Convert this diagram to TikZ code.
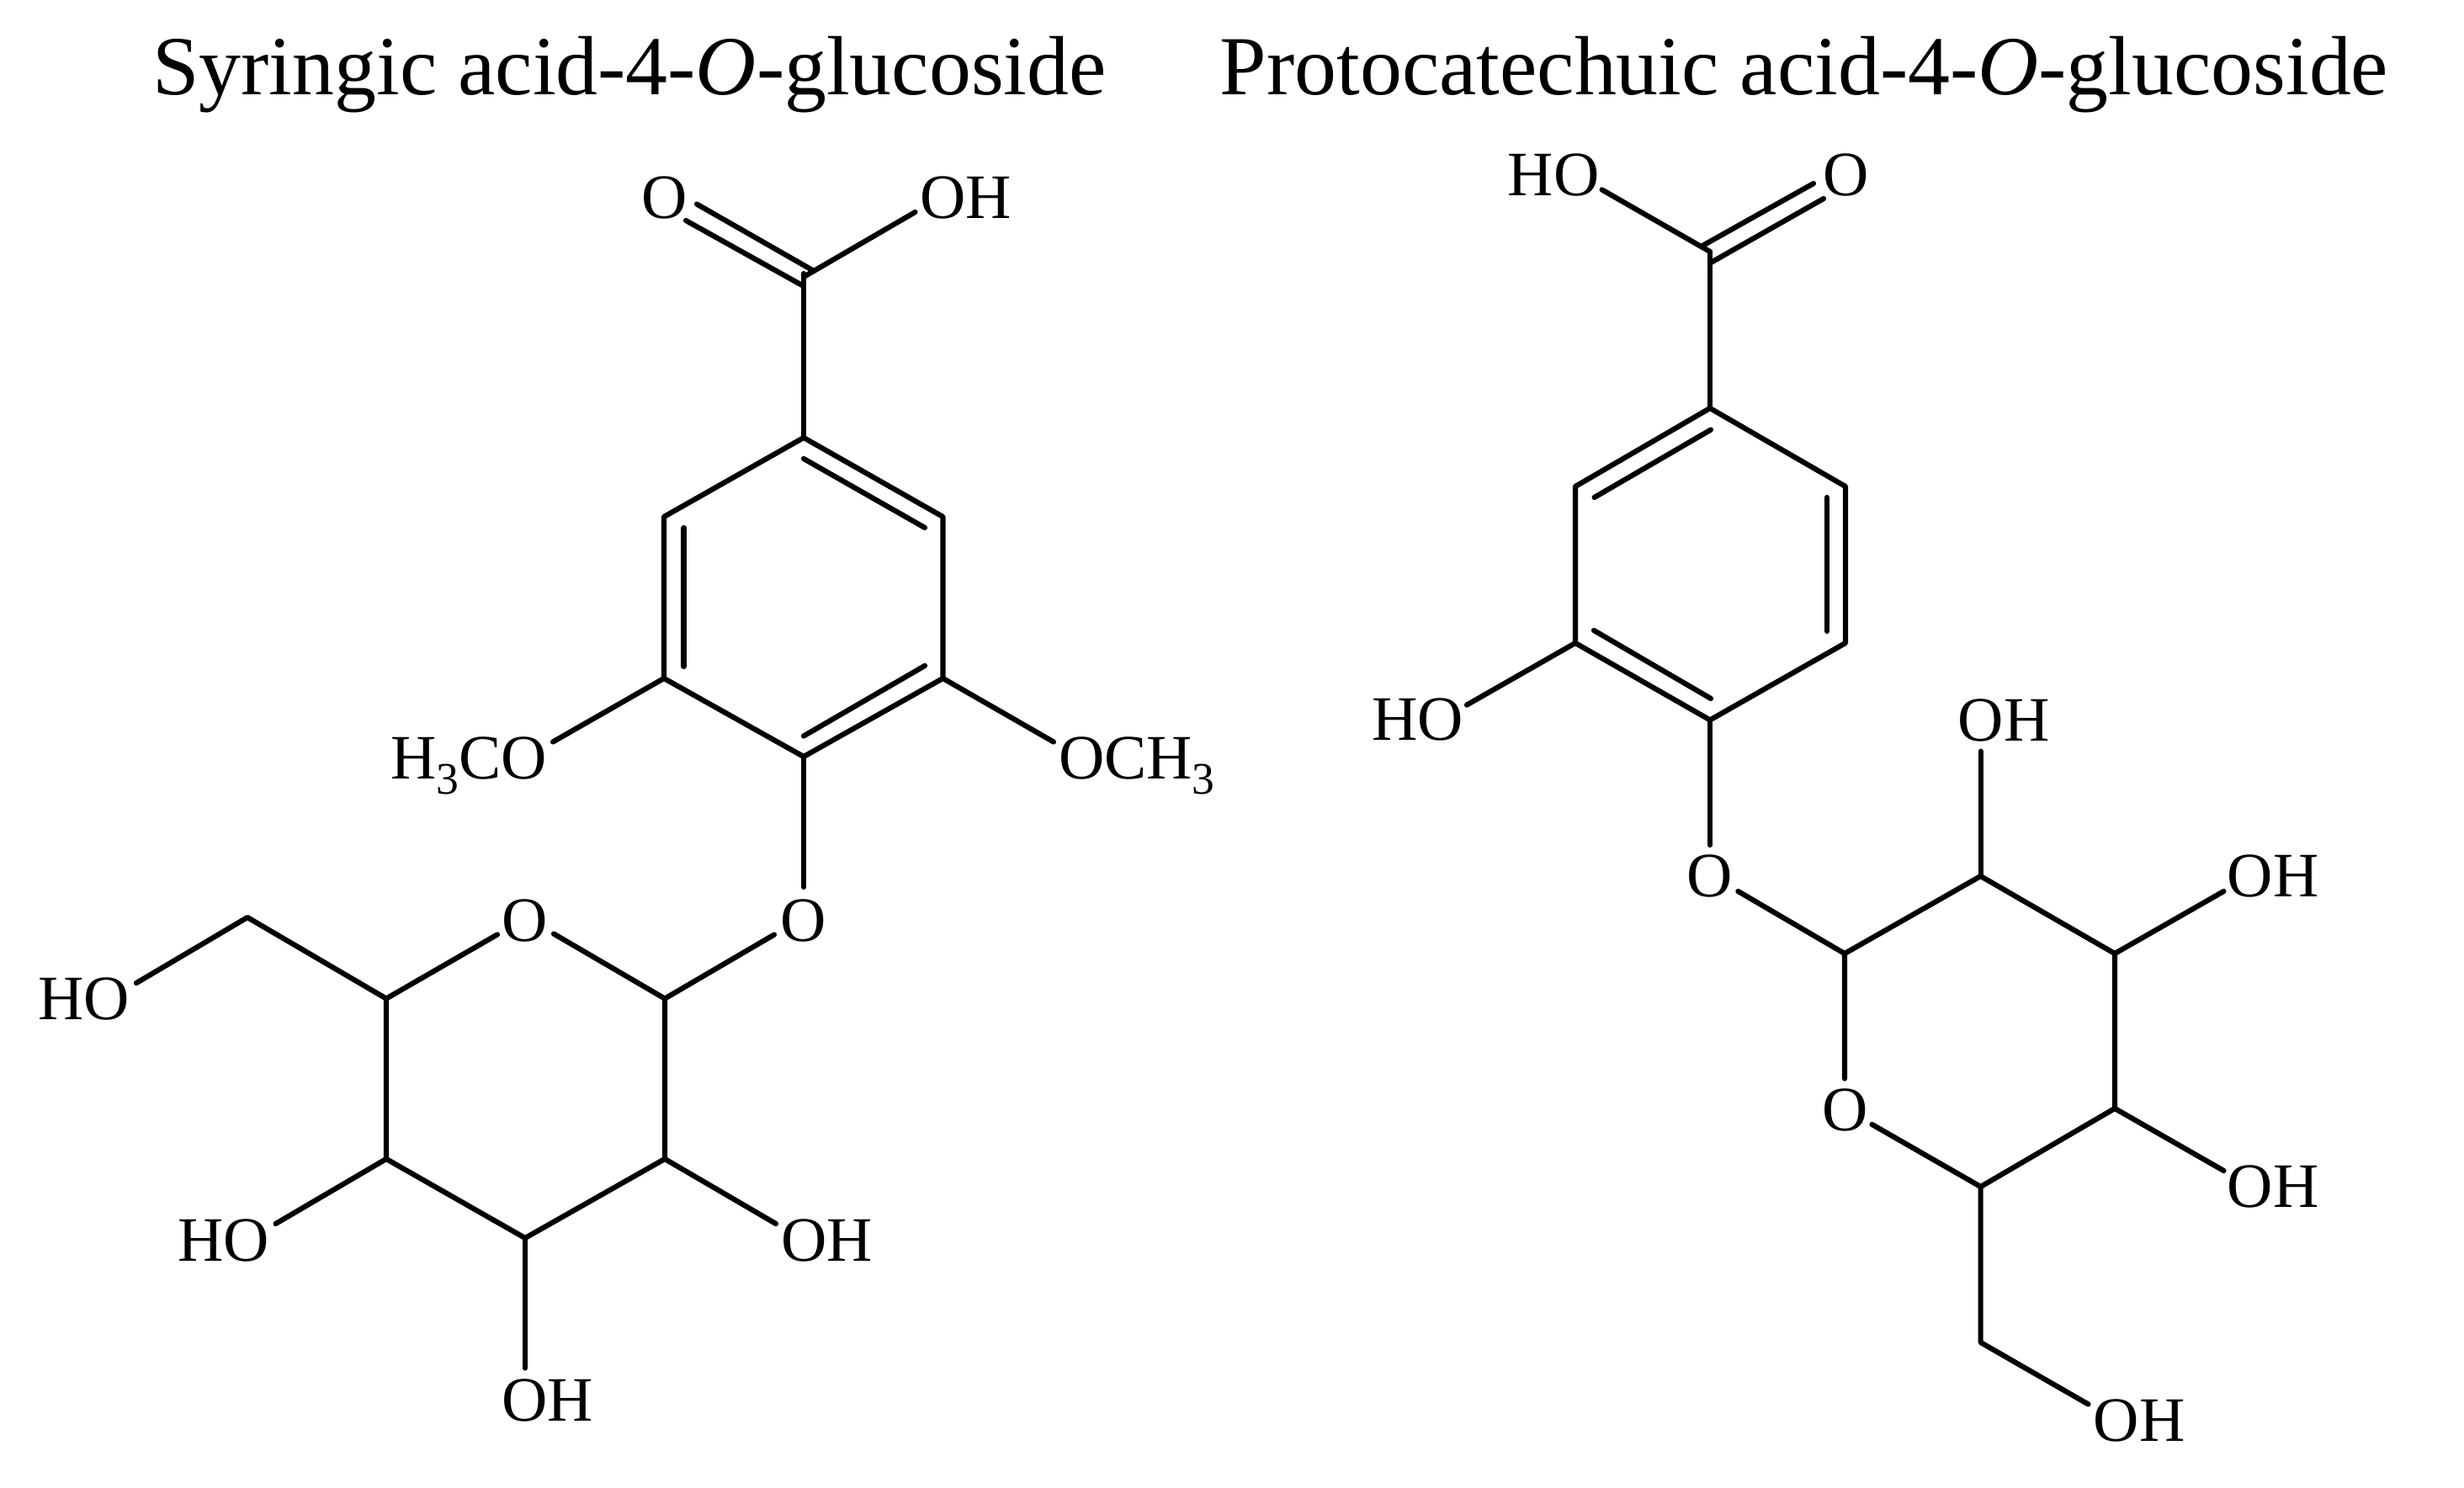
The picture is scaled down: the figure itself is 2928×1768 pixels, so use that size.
\documentclass[tikz,border=0pt]{standalone}
\usepackage{fontspec}
\setmainfont{Liberation Serif}
\newcommand{\subdigit}[1]{\raisebox{-0.24em}{\fontsize{13.4pt}{15pt}\selectfont #1}}
\tikzset{
  bond/.style={draw=black,line width=1.55pt,line cap=round,line join=round},
  atom/.style={inner sep=0pt,outer sep=0pt,anchor=base,font=\fontsize{18.8pt}{22pt}\selectfont,text=black},
  heading/.style={inner sep=0pt,outer sep=0pt,anchor=base,font=\fontsize{24.95pt}{30pt}\selectfont,text=black}
}
\begin{document}
\begin{tikzpicture}[x=0.25pt,y=-0.25pt]
\useasboundingbox (0,0) rectangle (2928,1768);
% titles
\node[heading] (titleA) at (748,112) {Syringic acid-4-\textit{O}-glucoside};
\node[heading] (titleB) at (2144,112) {Protocatechuic acid-4-\textit{O}-glucoside};

% ---------- left molecule ----------
\node[atom] (aO1) at (790,259) {O};
\node[atom] (aOH1) at (1148,259) {OH};
\node[atom] (aHCO) at (557,925) {H\subdigit{3}CO};
\node[atom] (aOCH) at (1351,925) {OCH\subdigit{3}};
\node[atom] (aOl) at (955,1118) {O};
\node[atom] (aOr) at (624,1118) {O};
\node[atom] (aHO6) at (100,1211) {HO};
\node[atom] (aHO4) at (266,1498) {HO};
\node[atom] (aOH2) at (983,1498) {OH};
\node[atom] (aOH3) at (651,1688) {OH};

\coordinate (aC) at (955,325);
\coordinate (r1) at (955,520);
\coordinate (r2) at (1120.5,614);
\coordinate (r3) at (1120.5,806);
\coordinate (r4) at (955,899);
\coordinate (r5) at (789,806);
\coordinate (r6) at (789,614);
\draw[bond] (r1) -- (r2) -- (r3) -- (r4) -- (r5) -- (r6) -- cycle;
\coordinate (i1a) at (955,545); \coordinate (i1b) at (1099,627);
\coordinate (i2a) at (812.5,627); \coordinate (i2b) at (812.5,792);
\coordinate (i3a) at (955,874.5); \coordinate (i3b) at (1099,791);
\draw[bond] (i1a) -- (i1b);
\draw[bond] (i2a) -- (i2b);
\draw[bond] (i3a) -- (i3b);
\draw[bond] (r1) -- (aC);
\coordinate (d1a) at (815,262); \coordinate (d1b) at (955,340);
\coordinate (d2a) at (828,242.5); \coordinate (d2b) at (965.4,321);
\draw[bond] (d1a) -- (d1b);
\draw[bond] (d2a) -- (d2b);
\coordinate (aCx) at (955,329);
\coordinate (eOH1) at (1087.5,252);
\draw[bond] (aCx) -- (eOH1);
\coordinate (eHCO) at (657,881.5);
\coordinate (eOCH) at (1252,881.5);
\draw[bond] (r5) -- (eHCO);
\draw[bond] (r3) -- (eOCH);
\coordinate (eOlT) at (955,1054);
\draw[bond] (r4) -- (eOlT);

\coordinate (s1) at (790,1186.5);
\coordinate (s2) at (790,1377);
\coordinate (s3) at (624,1471);
\coordinate (s4) at (459,1377);
\coordinate (s5) at (459,1186.5);
\coordinate (s6) at (294,1090);
\coordinate (eOrL) at (591,1110.4);
\coordinate (eOrR) at (658,1109.5);
\coordinate (eOlB) at (920,1110.5);
\coordinate (eHO6) at (162,1168);
\coordinate (eHO4) at (327.6,1454);
\coordinate (eOH2) at (922,1454);
\coordinate (eOH3) at (624,1625.5);
\draw[bond] (eOrR) -- (s1) -- (s2) -- (s3) -- (s4) -- (s5) -- (eOrL);
\draw[bond] (s1) -- (eOlB);
\draw[bond] (s5) -- (s6) -- (eHO6);
\draw[bond] (s4) -- (eHO4);
\draw[bond] (s2) -- (eOH2);
\draw[bond] (s3) -- (eOH3);

% ---------- right molecule ----------
\node[atom] (bHO1) at (1846,232) {HO};
\node[atom] (bO1) at (2194,232) {O};
\node[atom] (bHO2) at (1685,879) {HO};
\node[atom] (bOl) at (2032,1065) {O};
\node[atom] (bOr) at (2193,1343) {O};
\node[atom] (bOH2) at (2381,880) {OH};
\node[atom] (bOH3) at (2701,1065) {OH};
\node[atom] (bOH4) at (2701,1434.5) {OH};
\node[atom] (bOH6) at (2542,1712) {OH};

\coordinate (bC) at (2032,299);
\coordinate (q1) at (2032,485);
\coordinate (q2) at (2193,578);
\coordinate (q3) at (2193,764);
\coordinate (q4) at (2032,855.5);
\coordinate (q5) at (1872,764);
\coordinate (q6) at (1872,578);
\draw[bond] (q1) -- (q2) -- (q3) -- (q4) -- (q5) -- (q6) -- cycle;
\coordinate (j1a) at (1894.6,591); \coordinate (j1b) at (2033,510.6);
\coordinate (j2a) at (2171,591); \coordinate (j2b) at (2171,750);
\coordinate (j3a) at (1894,749); \coordinate (j3b) at (2033,830);
\draw[bond] (j1a) -- (j1b);
\draw[bond] (j2a) -- (j2b);
\draw[bond] (j3a) -- (j3b);
\draw[bond] (q1) -- (bC);
\coordinate (eHO1) at (1903.6,225.4);
\draw[bond] (bC) -- (eHO1);
\coordinate (f1a) at (2023,292); \coordinate (f1b) at (2155,218);
\coordinate (f2a) at (2032,312.6); \coordinate (f2b) at (2167,236);
\draw[bond] (f1a) -- (f1b);
\draw[bond] (f2a) -- (f2b);
\coordinate (eHO2) at (1743,837.6);
\draw[bond] (q5) -- (eHO2);
\coordinate (eblT) at (2032,1004);
\draw[bond] (q4) -- (eblT);

\coordinate (t1) at (2192,1133);
\coordinate (t2) at (2353.6,1041);
\coordinate (t3) at (2513,1133);
\coordinate (t4) at (2513,1317);
\coordinate (t5) at (2353.6,1410);
\coordinate (t6) at (2353.6,1595);
\coordinate (eblB) at (2065.4,1059);
\coordinate (ebrT) at (2192,1281.5);
\coordinate (ebrB) at (2224.5,1336);
\coordinate (ebOH2) at (2353.6,892.6);
\coordinate (ebOH3) at (2642.5,1059);
\coordinate (ebOH4) at (2642.5,1391);
\coordinate (ebOH6) at (2481.5,1668.5);
\draw[bond] (ebrT) -- (t1) -- (t2) -- (t3) -- (t4) -- (t5) -- (ebrB);
\draw[bond] (t1) -- (eblB);
\draw[bond] (t2) -- (ebOH2);
\draw[bond] (t3) -- (ebOH3);
\draw[bond] (t4) -- (ebOH4);
\draw[bond] (t5) -- (t6) -- (ebOH6);
\end{tikzpicture}
\end{document}
